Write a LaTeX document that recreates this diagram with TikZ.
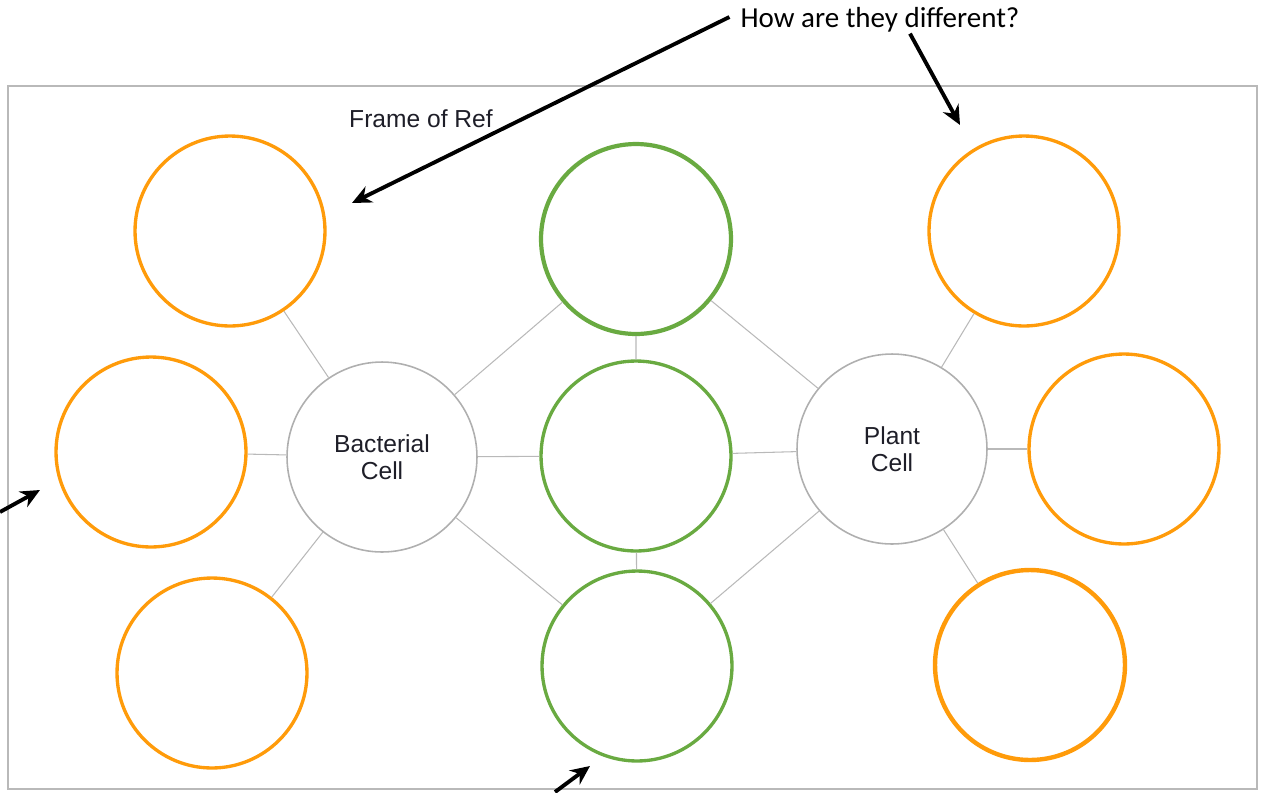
\documentclass[tikz,border=0pt]{standalone}
\usepackage{fontspec}
\setmainfont{Liberation Sans}
\newfontfamily\calibri{Carlito}
\usetikzlibrary{arrows.meta}
\definecolor{ringorange}{RGB}{255,155,10}
\definecolor{ringgreen}{RGB}{105,170,65}
\definecolor{ringgray}{RGB}{175,175,175}
\definecolor{linkgray}{RGB}{185,185,185}
\definecolor{labelgray}{RGB}{30,30,40}
\begin{document}
\begin{tikzpicture}[x=0.02cm,y=-0.02cm,>={Stealth[length=11pt,width=10pt]},
	bubble/.style={circle,draw=ringorange,line width=1.9pt,minimum size=3.8cm,inner sep=0pt},
	greenbubble/.style={bubble,draw=ringgreen},
	cellbubble/.style={circle,draw=ringgray,line width=0.9pt,minimum size=3.8cm,inner sep=0pt,
		align=center,text=labelgray,font=\fontsize{14}{15.5}\selectfont},
	link/.style={draw=linkgray,line width=0.6pt},
	pointer/.style={->,line width=2.2pt}]
	\useasboundingbox (0,0) rectangle (1268,792);
	\draw[linkgray,line width=1.1pt] (8,86) rectangle (1257,789);
	% the two cells
	\node[cellbubble] (bact) at (382,457) {Bacterial\\Cell};
	\node[cellbubble] (plant) at (892,449) {Plant\\Cell};
	% outer rings
	\node[bubble] (bl1) at (230,231) {};
	\node[bubble] (bl2) at (151,452) {};
	\node[bubble] (bl3) at (212,673) {};
	\node[bubble] (pl1) at (1024,231) {};
	\node[bubble] (pl2) at (1124,449) {};
	\node[bubble,line width=2.5pt] (pl3) at (1030,665) {};
	\node[greenbubble,line width=2.4pt] (g1) at (636,239) {};
	\node[greenbubble] (g2) at (636,456) {};
	\node[greenbubble] (g3) at (637,666) {};
	\foreach \i in {1,2,3}{
		\path[link] (bact) -- (bl\i);
		\path[link] (plant) -- (pl\i);
		\path[link] (bact) -- (g\i);
		\path[link] (plant) -- (g\i);
	}
	\path[link] (g1) -- (g2) (g2) -- (g3);
	% texts and arrows
	\node[text=labelgray,font=\fontsize{14}{16}\selectfont] (ref) at (421,119) {Frame of Ref};
	\node[font=\calibri\fontsize{16.5}{20}\selectfont] (ask) at (880,20) {How are they different?};
	\coordinate (tipa) at (352,203);
	\coordinate (tipb) at (960,125);
	\coordinate (taild) at (0,512);
	\coordinate (tipd) at (40,490);
	\coordinate (taile) at (555,792);
	\coordinate (tipe) at (590,766);
	\draw[pointer] ([xshift=-0.1cm,yshift=0.06cm]ask.west) -- (tipa);
	\draw[pointer] ([xshift=0.6cm,yshift=0.1cm]ask.south) -- (tipb);
	\draw[pointer] (taild) -- (tipd);
	\draw[pointer] (taile) -- (tipe);
\end{tikzpicture}
\end{document}
